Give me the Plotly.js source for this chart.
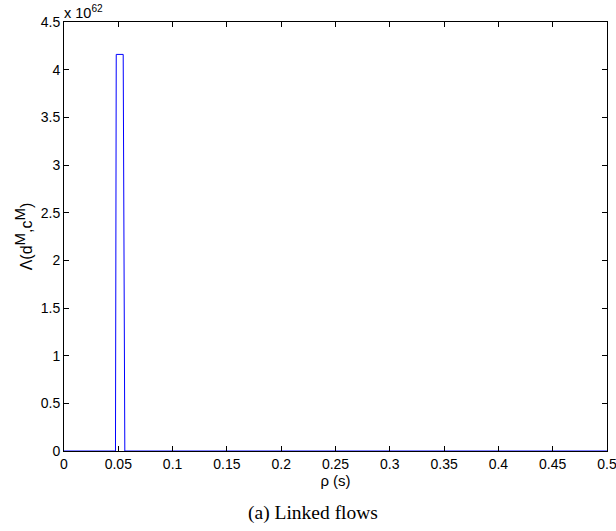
<!DOCTYPE html>
<html>
<head>
<meta charset="utf-8">
<script src="https://cdn.plot.ly/plotly-3.0.1.min.js"></script>
<style>
html,body{margin:0;padding:0;background:#fff;overflow:hidden;}
#chart{width:632px;height:531px;}
</style>
</head>
<body>
<div id="chart"></div>
<script>
// rho (s)
const rhoValues = [0, 0.0474, 0.0481, 0.0545, 0.0560, 0.5];
// Lambda(d^M, c^M) in units of 10^62
const lambdaValues = [0, 0, 4.16, 4.16, 0, 0];

const xTickVals = [0, 0.05, 0.1, 0.15, 0.2, 0.25, 0.3, 0.35, 0.4, 0.45, 0.5];
const xTickText = ["0", "0.05", "0.1", "0.15", "0.2", "0.25", "0.3", "0.35", "0.4", "0.45", "0.5"];
const yTickVals = [0, 0.5, 1, 1.5, 2, 2.5, 3, 3.5, 4, 4.5];
const yTickText = ["0", "0.5", "1", "1.5", "2", "2.5", "3", "3.5", "4", "4.5"];

const trace = {
  x: rhoValues,
  y: lambdaValues,
  type: 'scatter',
  mode: 'lines',
  line: {color: '#0000ff', width: 1},
  hoverinfo: 'skip'
};

const sans = 'Liberation Sans, Arial, Helvetica, sans-serif';
const tickFont = {family: sans, size: 14, color: '#000'};

const layout = {
  width: 632,
  height: 531,
  margin: {l: 64, r: 24.5, t: 22, b: 80},
  paper_bgcolor: '#fff',
  plot_bgcolor: '#fff',
  showlegend: false,
  xaxis: {
    range: [0, 0.5],
    tickvals: xTickVals,
    ticktext: xTickText,
    ticks: 'inside',
    ticklen: 5,
    tickwidth: 1,
    tickcolor: '#000',
    showline: true,
    linecolor: '#000',
    linewidth: 1,
    mirror: 'ticks',
    showgrid: false,
    zeroline: false,
    tickfont: tickFont,
    title: {text: 'ρ (s)', font: {family: sans, size: 15, color: '#000'}, standoff: 3}
  },
  yaxis: {
    range: [0, 4.5],
    tickvals: yTickVals,
    ticktext: yTickText,
    ticks: 'inside',
    ticklen: 5,
    tickwidth: 1,
    tickcolor: '#000',
    showline: true,
    linecolor: '#000',
    linewidth: 1,
    mirror: 'ticks',
    showgrid: false,
    zeroline: false,
    tickfont: tickFont,
    title: {
      text: 'Λ(d<sup><span style="font-size:15px">M</span></sup>,c<sup><span style="font-size:15px">M</span></sup>)',
      font: {family: sans, size: 16, color: '#000'},
      standoff: 4
    }
  },
  annotations: [
    {
      text: 'x 10<sup>62</sup>',
      xref: 'paper', yref: 'paper',
      x: 0, y: 1,
      xanchor: 'left', yanchor: 'bottom',
      xshift: -2, yshift: -1,
      showarrow: false,
      font: {family: sans, size: 14.5, color: '#000'}
    },
    {
      text: '(a) Linked flows',
      xref: 'paper', yref: 'paper',
      x: 0.458, y: 0,
      xanchor: 'center', yanchor: 'middle',
      yshift: -62,
      showarrow: false,
      font: {family: 'Liberation Serif, Times New Roman, serif', size: 19.5, color: '#000'}
    }
  ]
};

Plotly.newPlot('chart', [trace], layout, {staticPlot: true, displayModeBar: false});
</script>
</body>
</html>
